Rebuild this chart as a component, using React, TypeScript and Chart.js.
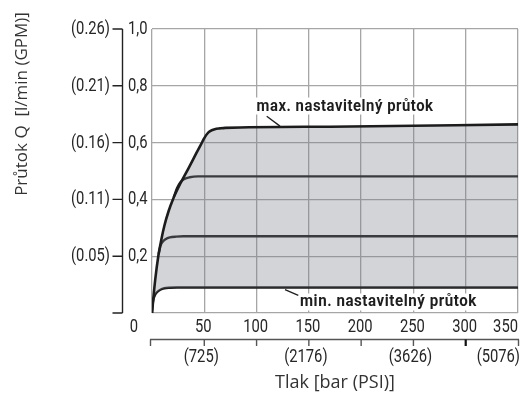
import React, { useEffect, useRef } from "react";
import { Chart, registerables } from "chart.js";
Chart.register(...registerables);

// Pressure axis (bar) and PSI secondary labels
const pressureTicks = [0, 50, 100, 150, 200, 250, 300, 350];
const pressureTickLabels = ["0", "50", "100", "150", "200", "250", "300", "350"];
const psiTickValues = [50, 150, 250, 350];
const psiTickLabels = ["(725)", "(2176)", "(3626)", "(5076)"];

// Flow axis (l/min) and GPM secondary labels
const flowTicks = [0, 0.2, 0.4, 0.6, 0.8, 1.0];
const flowTickLabels = ["", "0,2", "0,4", "0,6", "0,8", "1,0"];
const gpmTickLabels = ["", "(0.05)", "(0.11)", "(0.16)", "(0.21)", "(0.26)"];

// Curves: pressure (bar) -> flow (l/min)
const maxCurveX = [0, 1.5, 3, 6, 9, 12, 16, 20, 27, 35, 42, 47, 50, 53, 56, 60, 65, 70, 170, 350];
const maxCurveY = [0, 0.06, 0.115, 0.2, 0.26, 0.31, 0.36, 0.4, 0.455, 0.51, 0.56, 0.595, 0.616, 0.632, 0.641, 0.647, 0.65, 0.652, 0.656, 0.664];

const curve48X = [21, 24, 27, 31, 36, 44, 350];
const curve48Y = [0.41, 0.44, 0.46, 0.472, 0.478, 0.481, 0.481];

const curve27X = [6.5, 8, 10, 13, 17, 23, 30, 350];
const curve27Y = [0.21, 0.235, 0.25, 0.26, 0.266, 0.269, 0.27, 0.27];

const minCurveX = [0, 0.6, 1.5, 3, 5, 8, 12, 17, 24, 350];
const minCurveY = [0, 0.03, 0.05, 0.064, 0.074, 0.082, 0.087, 0.089, 0.09, 0.09];

const maxLabel = "max. nastavitelný průtok";
const minLabel = "min. nastavitelný průtok";
const xTitle = "Tlak [bar (PSI)]";
const yTitle = "Průtok Q  [l/min (GPM)]";

const toPts = (xs: number[], ys: number[]) => xs.map((x, i) => ({ x, y: ys[i] }));

const COND = 'Roboto, "Noto Sans", sans-serif';
const SANS = '"Open Sans", "Noto Sans", sans-serif';

function narrowText(ctx: CanvasRenderingContext2D, text: string, x: number, y: number, align: CanvasTextAlign, sx: number) {
  ctx.save();
  ctx.translate(x, y);
  ctx.scale(sx, 1);
  ctx.textAlign = align;
  ctx.fillText(text, 0, 0);
  ctx.restore();
}

const decorPlugin = {
  id: "decor",
  afterDraw(chart: any) {
    const ctx: CanvasRenderingContext2D = chart.ctx;
    const xs = chart.scales.x;
    const ys = chart.scales.y;
    const px = (v: number) => xs.getPixelForValue(v);
    const py = (v: number) => ys.getPixelForValue(v);
    const SX = 0.82;
    ctx.save();

    // Left double axis
    const axX = xs.left - 29.5;
    ctx.strokeStyle = "#222";
    ctx.lineWidth = 1.4;
    ctx.beginPath();
    ctx.moveTo(axX, py(1));
    ctx.lineTo(axX, py(0));
    flowTicks.forEach((v) => {
      ctx.moveTo(axX - 10, py(v));
      ctx.lineTo(axX, py(v));
    });
    ctx.stroke();
    ctx.fillStyle = "#262626";
    ctx.font = `18px ${COND}`;
    ctx.textBaseline = "middle";
    flowTicks.forEach((v, i) => {
      narrowText(ctx, flowTickLabels[i], axX + 5.5, py(v) + 0.5, "left", SX);
      narrowText(ctx, gpmTickLabels[i], axX - 12.5, py(v) + 0.5, "right", SX);
    });

    // Bottom bar tick labels
    const yLab = ys.bottom + 14;
    pressureTicks.forEach((v, i) => {
      if (i === 0) narrowText(ctx, pressureTickLabels[i], px(v) - 18, yLab, "center", SX);
      else if (i === pressureTicks.length - 1) narrowText(ctx, pressureTickLabels[i], px(v), yLab, "right", SX);
      else narrowText(ctx, pressureTickLabels[i], px(v) - 1, yLab, "center", SX);
    });

    // Secondary PSI axis
    const yPsi = ys.bottom + 26.5;
    ctx.strokeStyle = "#555";
    ctx.lineWidth = 1.4;
    ctx.beginPath();
    ctx.moveTo(px(0) - 2, yPsi);
    ctx.lineTo(px(350) + 1, yPsi);
    ctx.stroke();
    pressureTicks.forEach((v) => {
      ctx.beginPath();
      ctx.strokeStyle = v === 300 ? "#111" : "#555";
      ctx.lineWidth = v === 300 ? 2.2 : 1.4;
      const x = v === 0 ? px(v) - 1.5 : v === 350 ? px(v) + 0.5 : px(v);
      ctx.moveTo(x, yPsi);
      ctx.lineTo(x, yPsi + 6.5);
      ctx.stroke();
    });
    ctx.fillStyle = "#262626";
    psiTickValues.forEach((v, i) => {
      const last = i === psiTickValues.length - 1;
      narrowText(ctx, psiTickLabels[i], last ? px(v) + 2 : px(v) - 3, ys.bottom + 44, last ? "right" : "center", SX);
    });

    // Axis titles
    ctx.fillStyle = "#333";
    ctx.font = `18px ${SANS}`;
    ctx.textAlign = "center";
    ctx.fillText(xTitle, (xs.left + xs.right) / 2, ys.bottom + 70);
    ctx.save();
    ctx.translate(22, 104);
    ctx.rotate(-Math.PI / 2);
    ctx.font = `17px ${SANS}`;
    ctx.fillText(yTitle, 0, 0);
    ctx.restore();

    // Annotations
    const ANNO_W = 177;
    const drawAnno = (text: string, tx: number, ty: number, l0: number[], l1: number[]) => {
      ctx.font = `bold 16.5px ${COND}`;
      (ctx as any).letterSpacing = "0.6px";
      ctx.textBaseline = "alphabetic";
      const x = px(tx);
      const y = py(ty);
      const w = ctx.measureText(text).width;
      const sx = ANNO_W / w;
      ctx.fillStyle = "#fff";
      ctx.fillRect(x - 2, y - 13, ANNO_W + 4, 17);
      ctx.fillStyle = "#1e1e1e";
      narrowText(ctx, text, x, y, "left", sx);
      (ctx as any).letterSpacing = "0px";
      ctx.strokeStyle = "#1e1e1e";
      ctx.lineWidth = 1.3;
      ctx.beginPath();
      ctx.moveTo(px(l0[0]), py(l0[1]));
      ctx.lineTo(px(l1[0]), py(l1[1]));
      ctx.stroke();
    };
    drawAnno(maxLabel, 100, 0.713, [109.7, 0.693], [122.4, 0.658]);
    drawAnno(minLabel, 141.5, 0.023, [127.2, 0.082], [139.9, 0.062]);

    ctx.restore();
  },
};

export default function App() {
  const ref = useRef<HTMLCanvasElement | null>(null);
  useEffect(() => {
    if (!ref.current) return;
    const lineBase = {
      borderColor: "#1c1c1c",
      pointRadius: 0,
      cubicInterpolationMode: "monotone" as const,
      borderCapStyle: "round" as const,
      borderJoinStyle: "round" as const,
    };
    const chart = new Chart(ref.current, {
      type: "line",
      data: {
        datasets: [
          {
            ...lineBase,
            label: "max",
            data: toPts(maxCurveX, maxCurveY),
            borderWidth: 2.6,
            fill: 3,
            backgroundColor: "rgba(120,124,135,0.33)",
          },
          { ...lineBase, label: "0.48", data: toPts(curve48X, curve48Y), borderWidth: 2.4, fill: false },
          { ...lineBase, label: "0.27", data: toPts(curve27X, curve27Y), borderWidth: 2.4, fill: false },
          { ...lineBase, label: "min", data: toPts(minCurveX, minCurveY), borderWidth: 2.4, fill: false },
        ],
      },
      options: {
        responsive: false,
        animation: false,
        layout: { padding: { left: 152, top: 29, right: 8, bottom: 86 } },
        plugins: { legend: { display: false }, tooltip: { enabled: false } },
        scales: {
          x: {
            type: "linear",
            min: 0,
            max: 350,
            ticks: { display: false, stepSize: 50 },
            grid: { color: "#a6a6a6", lineWidth: 1.3, drawTicks: false },
            border: { display: false },
          },
          y: {
            min: 0,
            max: 1,
            ticks: { display: false, stepSize: 0.2 },
            grid: { color: "#a6a6a6", lineWidth: 1.3, drawTicks: false },
            border: { display: false },
          },
        },
      },
      plugins: [decorPlugin],
    });
    return () => chart.destroy();
  }, []);
  return (
    <div style={{ position: "absolute", left: 0, top: 0, width: 526, height: 399, background: "#fff" }}>
      <canvas ref={ref} width={526} height={399} style={{ display: "block", width: 526, height: 399 }} />
    </div>
  );
}
